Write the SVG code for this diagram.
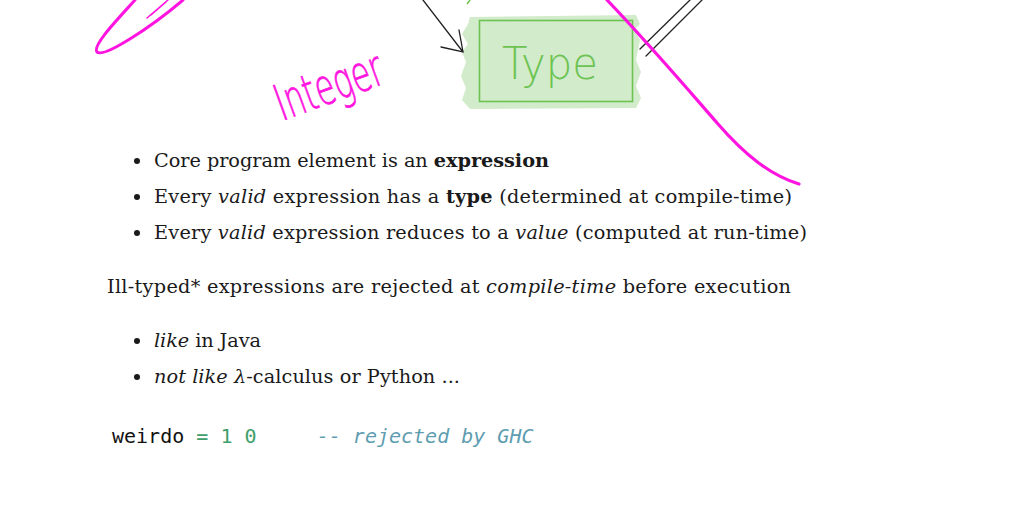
<svg xmlns="http://www.w3.org/2000/svg" width="1030" height="520" viewBox="0 0 1030 520">
<style>
.body{font-family:"DejaVu Serif","Liberation Serif",serif;font-size:19.3px;fill:#1a1a1a}
.b{font-weight:bold}
.i{font-style:italic}
.code{font-family:"DejaVu Sans Mono","Liberation Mono",monospace;font-size:20px}
.ink{fill:none;stroke:#ff14e0;stroke-linecap:round;stroke-linejoin:round}
.pen{fill:none;stroke:#222;stroke-width:1.3;stroke-linecap:round}
</style>
<rect width="1030" height="520" fill="#fff"/>
<g id="type-node">
<path d="M470 17 L636 15 L640 24 L634 30 L640 40 L636 60 L641 72 L636 86 L641 98 L636 108 L470 109 L462 100 L466 88 L461 76 L466 62 L462 52 L468 44 L462 34 L468 24 Z" fill="#d2ebca"/>
<rect x="479.5" y="20.5" width="153" height="81" fill="none" stroke="#6cc352" stroke-width="1.6"/>
<text x="502" y="79" font-family="DejaVu Sans" font-size="44" font-weight="200" fill="#6cc352" textLength="96" lengthAdjust="spacingAndGlyphs">Type</text>
</g>
<g id="integer-label">
<text x="282" y="121" transform="rotate(-20 282 121)" font-family="DejaVu Sans" font-size="50" font-weight="200" fill="#ff14e0" stroke="#ff14e0" stroke-width="0.8" textLength="112" lengthAdjust="spacingAndGlyphs">Integer</text>
</g>
<g id="connectors">
<path class="pen" d="M423 0 L463 52 M441 47 L463 52 L459 30"/>
<path class="pen" d="M640 49 L690 0 M646 56 L702 0"/>
<path d="M467 4 L470 0" stroke="#6cc352" stroke-width="1.5"/>
<path class="ink" stroke-width="3" d="M135 0 C115 22 92 46 97 52 C104 58 150 28 183 0"/>
<path class="ink" stroke-width="1.5" d="M147 18 L168 0 M151 15 L166 2"/>
<path class="ink" stroke-width="3.2" d="M607 0 C650 45 690 92 718 124 C745 155 770 175 799 184"/>
</g>
<g id="text">
<circle cx="137" cy="161" r="3" fill="#1a1a1a"/>
<text class="body" x="154" y="167" textLength="395" lengthAdjust="spacing">Core program element is an <tspan class="b">expression</tspan></text>
<circle cx="137" cy="197" r="3" fill="#1a1a1a"/>
<text class="body" x="154" y="203" textLength="638" lengthAdjust="spacing">Every <tspan class="i">valid</tspan> expression has a <tspan class="b">type</tspan> (determined at compile-time)</text>
<circle cx="137" cy="233" r="3" fill="#1a1a1a"/>
<text class="body" x="154" y="239" textLength="653" lengthAdjust="spacing">Every <tspan class="i">valid</tspan> expression reduces to a <tspan class="i">value</tspan> (computed at run-time)</text>
<text class="body" x="107" y="293" textLength="684" lengthAdjust="spacing">Ill-typed* expressions are rejected at <tspan class="i">compile-time</tspan> before execution</text>
<circle cx="137" cy="341" r="3" fill="#1a1a1a"/>
<text class="body" x="154" y="347" textLength="107" lengthAdjust="spacing"><tspan class="i">like</tspan> in Java</text>
<circle cx="137" cy="377" r="3" fill="#1a1a1a"/>
<text class="body" x="154" y="383" textLength="306" lengthAdjust="spacing"><tspan class="i">not like λ</tspan>-calculus or Python ...</text>
<text class="code" x="112" y="443" xml:space="preserve"><tspan fill="#111">weirdo</tspan> <tspan fill="#3f9e6a">=</tspan> <tspan fill="#3f9e6a">1 0</tspan>     <tspan fill="#5f9db0" font-style="italic">-- rejected by GHC</tspan></text>
</g>
</svg>
